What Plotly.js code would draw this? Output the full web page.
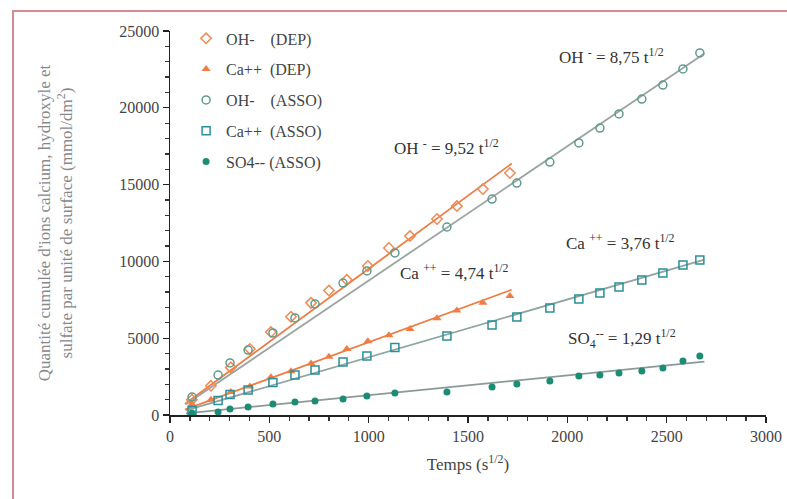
<!DOCTYPE html>
<html>
<head>
<meta charset="utf-8">
<script src="https://cdn.plot.ly/plotly-3.0.1.min.js"></script>
<style>
html,body{margin:0;padding:0;background:#fff;}
#wrap{position:relative;width:787px;height:499px;}
#chart{width:787px;height:499px;}
#frame{position:absolute;left:12px;top:10px;right:-5px;bottom:-5px;border-top:2px solid #d78a96;border-left:2px solid #d78a96;pointer-events:none;}
</style>
</head>
<body>
<div id="wrap"><div id="chart"></div><div id="frame"></div></div>
<script>
// Data (x = t^1/2, y = mmol/dm2)
const depX = [110, 206, 306, 402, 508, 609, 710, 800, 890, 996, 1102, 1208, 1344, 1444, 1575, 1711];
const ohDep = [1000, 1900, 3100, 4300, 5400, 6400, 7300, 8100, 8800, 9700, 10870, 11650, 12760, 13600, 14710, 15750];
const caDep = [700, 1000, 1500, 1850, 2450, 2850, 3350, 3800, 4300, 4800, 5200, 5600, 6300, 6800, 7300, 7750];

const assoX = [111, 242, 302, 393, 518, 629, 730, 871, 991, 1132, 1394, 1621, 1746, 1912, 2058, 2164, 2260, 2375, 2481, 2582, 2667];
const ohAsso = [1170, 2600, 3390, 4230, 5340, 6320, 7230, 8590, 9375, 10550, 12240, 14060, 15100, 16470, 17710, 18680, 19600, 20570, 21480, 22530, 23570];
const caAsso = [300, 950, 1330, 1630, 2120, 2600, 2930, 3450, 3840, 4400, 5140, 5860, 6380, 6970, 7550, 7940, 8330, 8790, 9250, 9770, 10090];
const so4Asso = [130, 200, 390, 520, 720, 850, 910, 1040, 1240, 1430, 1500, 1820, 2020, 2210, 2540, 2600, 2730, 2860, 3060, 3520, 3840];

// Fitted slopes (y = k * t^1/2) and fitted line extents
const fitNames = ['OH- DEP fit', 'Ca++ DEP fit', 'OH- ASSO fit', 'Ca++ ASSO fit', 'SO4-- ASSO fit'];
const fitK = [9.52, 4.74, 8.75, 3.76, 1.29];
const fitStart = [75, 75, 80, 80, 80];
const fitEnd = [1720, 1720, 2690, 2690, 2690];
const fitColors = ['#ee7d45', '#ee7d45', '#9aa5a2', '#8fa5a0', '#8a9a96'];

const legendNames = ['OH-&nbsp;&nbsp;&nbsp;&nbsp;(DEP)', 'Ca++&nbsp;&nbsp;(DEP)', 'OH-&nbsp;&nbsp;&nbsp;&nbsp;(ASSO)', 'Ca++&nbsp;&nbsp;(ASSO)', 'SO4--&nbsp;(ASSO)'];
const yTicks = [0, 5000, 10000, 15000, 20000, 25000];
const xTicks = [0, 500, 1000, 1500, 2000, 2500, 3000];

const serif = 'Liberation Serif, Times New Roman, serif';
const traces = [];
for (let i = 0; i < fitK.length; i++) {
  traces.push({
    x: [fitStart[i], fitEnd[i]],
    y: [fitK[i] * fitStart[i], fitK[i] * fitEnd[i]],
    mode: 'lines', line: {color: fitColors[i], width: 1.8},
    showlegend: false, hoverinfo: 'skip', name: fitNames[i]
  });
}
traces.push({x: depX, y: ohDep, mode: 'markers', name: legendNames[0], legendgroup: 'a',
  marker: {symbol: 'diamond-open', size: 8, color: '#ef8a55', line: {width: 1.5}}});
traces.push({x: depX, y: caDep, mode: 'markers', name: legendNames[1], legendgroup: 'b',
  marker: {symbol: 'triangle-up', size: 8, color: '#ef7d45'}});
traces.push({x: assoX, y: ohAsso, mode: 'markers', name: legendNames[2], legendgroup: 'c',
  marker: {symbol: 'circle-open', size: 8, color: '#5f9c8e', line: {width: 1.5}}});
traces.push({x: assoX, y: caAsso, mode: 'markers', name: legendNames[3], legendgroup: 'd',
  marker: {symbol: 'square-open', size: 8, color: '#2a8f9a', line: {width: 1.5}}});
traces.push({x: assoX, y: so4Asso, mode: 'markers', name: legendNames[4], legendgroup: 'e',
  marker: {symbol: 'circle', size: 7, color: '#1d8c74'}});

const annFont = {family: serif, size: 17, color: '#333'};
const layout = {
  width: 787, height: 499,
  margin: {l: 170, r: 21, t: 31, b: 84},
  paper_bgcolor: '#fff', plot_bgcolor: '#fff',
  font: {family: serif, size: 15, color: '#333'},
  showlegend: true,
  legend: {x: 0.027, y: 1.025, xanchor: 'left', yanchor: 'top', bgcolor: 'rgba(0,0,0,0)',
    font: {family: serif, size: 16, color: '#444'}, tracegroupgap: 7, itemwidth: 30},
  xaxis: {
    range: [0, 3000], tickvals: xTicks, tickformat: 'd',
    showgrid: false, zeroline: false, showline: true, linecolor: '#222', linewidth: 1.5,
    ticks: 'outside', ticklen: 6, tickcolor: '#222', tickwidth: 1.3,
    minor: {dtick: 100, ticks: 'outside', ticklen: 4, tickcolor: '#333', showgrid: false},
    tickfont: {family: serif, size: 16, color: '#444'},
    title: {text: 'Temps (s<sup>1/2</sup>)', font: {family: serif, size: 17, color: '#444'}, standoff: 14}
  },
  yaxis: {
    range: [0, 25000], tickvals: yTicks, tickformat: 'd',
    showgrid: false, zeroline: false, showline: true, linecolor: '#222', linewidth: 1.5,
    ticks: 'outside', ticklen: 6, tickcolor: '#222', tickwidth: 1.3,
    minor: {dtick: 1000, ticks: 'outside', ticklen: 4, tickcolor: '#333', showgrid: false},
    tickfont: {family: serif, size: 16, color: '#444'},
    title: {text: "Quantité cumulée d'ions calcium, hydroxyle et<br>sulfate par unité de surface (mmol/dm<sup>2</sup>)",
      font: {family: serif, size: 17, color: '#888'}, standoff: 42}
  },
  annotations: [
    {x: 2220, y: 23400, text: 'OH <sup>-</sup> = 8,75 t<sup>1/2</sup>', showarrow: false, font: annFont},
    {x: 1390, y: 17450, text: 'OH <sup>-</sup> = 9,52 t<sup>1/2</sup>', showarrow: false, font: annFont},
    {x: 1430, y: 9310, text: 'Ca <sup>++</sup> = 4,74 t<sup>1/2</sup>', showarrow: false, font: annFont},
    {x: 2270, y: 11260, text: 'Ca <sup>++</sup> = 3,76 t<sup>1/2</sup>', showarrow: false, font: annFont},
    {x: 2275, y: 5010, text: 'SO<sub>4</sub><sup>--</sup> = 1,29 t<sup>1/2</sup>', showarrow: false, font: annFont}
  ]
};
Plotly.newPlot('chart', traces, layout, {displayModeBar: false, staticPlot: true});
</script>
</body>
</html>
